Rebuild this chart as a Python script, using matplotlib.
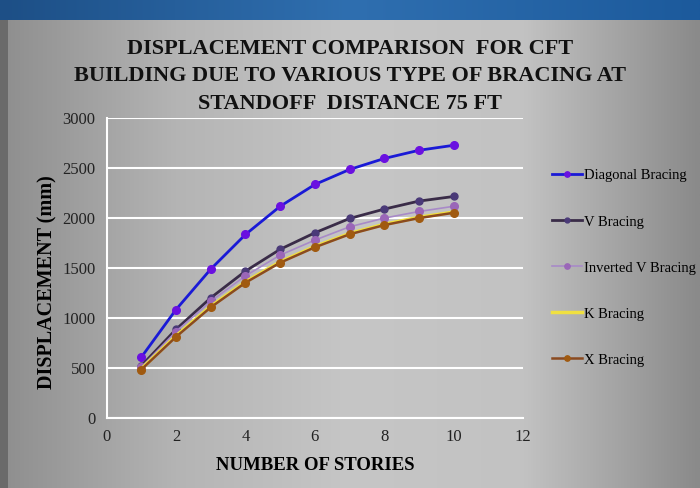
import numpy as np
import matplotlib
matplotlib.use('Agg')
import matplotlib.pyplot as plt
from matplotlib.colors import LinearSegmentedColormap

DPI = 100

stories = [1, 2, 3, 4, 5, 6, 7, 8, 9, 10]
diagonal = [612, 1088, 1492, 1838, 2120, 2338, 2488, 2598, 2680, 2730]
v_bracing = [525, 890, 1205, 1472, 1690, 1855, 1998, 2092, 2172, 2218]
inv_v_bracing = [512, 868, 1170, 1425, 1632, 1782, 1915, 2002, 2068, 2120]
k_bracing = [495, 825, 1120, 1365, 1565, 1718, 1848, 1940, 2010, 2062]
x_bracing = [488, 815, 1110, 1356, 1556, 1710, 1840, 1932, 2002, 2055]

labels = ['Diagonal Bracing', 'V Bracing', 'Inverted V Bracing', 'K Bracing', 'X Bracing']
series = [diagonal, v_bracing, inv_v_bracing, k_bracing, x_bracing]

serif = ['Liberation Serif', 'DejaVu Serif']

fig = plt.figure(figsize=(7.0, 4.88), dpi=DPI)

# slide background: grey gradient with blue band on top
bg = fig.add_axes([0, 0, 1, 1], zorder=-10)
bg.set_axis_off()
cmap = LinearSegmentedColormap.from_list('slide', ['#8e8e8e', '#b4b4b4', '#c6c6c6', '#c2c2c2', '#8a8a8a'])
grad = np.tile(np.linspace(0, 1, 256), (64, 1))
bg.imshow(grad, cmap=cmap, aspect='auto', extent=[0, 1, 0, 1])
band = LinearSegmentedColormap.from_list('band', ['#1d4f86', '#2f6fb0', '#1c5a9c'])
bg.imshow(grad, cmap=band, aspect='auto', extent=[0, 1, 1 - 20 / 488.0, 1])
bg.imshow(grad[:, :1], cmap=LinearSegmentedColormap.from_list('edge', ['#6a6a6a', '#6a6a6a']),
          aspect='auto', extent=[0, 8 / 700.0, 0, 1 - 20 / 488.0])
bg.set_xlim(0, 1)
bg.set_ylim(0, 1)

ax = fig.add_axes([0.1524, 0.1428, 0.5948, 0.6148])
ax.set_facecolor('none')

styles = [
    dict(color='#1a1ad6', lw=2.0, marker='o', ms=5.5, mfc='#6a10e0', mec='#6a10e0'),
    dict(color='#3a2c48', lw=2.0, marker='o', ms=5, mfc='#4a3a78', mec='#4a3a78'),
    dict(color='#a88ac8', lw=1.2, marker='o', ms=5.5, mfc='#9a66b8', mec='#9a66b8'),
    dict(color='#f0e040', lw=2.5, marker=None),
    dict(color='#8a4a20', lw=1.8, marker='o', ms=5.5, mfc='#a05a10', mec='#a05a10'),
]

for data, lab, st in zip(series, labels, styles):
    ax.plot(stories, data, label=lab, **st)

ax.set_xlim(0, 12)
ax.set_ylim(0, 3000)
ax.set_xticks(range(0, 13, 2))
ax.set_yticks(range(0, 3001, 500))
ax.yaxis.grid(True, color='white', lw=1.5)
ax.set_axisbelow(True)
for side in ['top', 'right']:
    ax.spines[side].set_visible(False)
for side in ['left', 'bottom']:
    ax.spines[side].set_color('white')
    ax.spines[side].set_linewidth(1.5)
ax.tick_params(length=0, labelsize=12, pad=8, colors='#222222')
for t in ax.get_xticklabels() + ax.get_yticklabels():
    t.set_family(serif)

ax.set_xlabel('NUMBER OF STORIES', fontsize=13.5, fontweight='bold', family=serif, labelpad=8)
ax.set_ylabel('DISPLACEMENT (mm)', fontsize=14.5, fontweight='bold', family=serif)
ax.yaxis.set_label_coords(-0.117, 0.455)

fig.text(0.5, 0.844, 'DISPLACEMENT COMPARISON  FOR CFT\nBUILDING DUE TO VARIOUS TYPE OF BRACING AT\nSTANDOFF  DISTANCE 75 FT',
         ha='center', va='center', fontsize=16, fontweight='bold', family=serif, linespacing=1.5,
         color='#111111')

leg = ax.legend(loc='upper left', bbox_to_anchor=(1.053, 0.83), frameon=False,
                prop={'family': serif, 'size': 10.5}, labelspacing=2.25, borderpad=0,
                handlelength=2.05, handletextpad=0.15, markerscale=0.7)

fig.canvas.draw()
# line the first legend row up with the reference (row centre at y ~176 px)
row0 = leg.get_texts()[0].get_window_extent()
shift = (488 - 176) - (row0.y0 + row0.y1) / 2.0
inv = ax.transAxes.inverted()
dy = inv.transform((0, shift))[1] - inv.transform((0, 0))[1]
leg.set_bbox_to_anchor((1.053, 0.83 + dy), transform=ax.transAxes)

plt.savefig('out.png', dpi=DPI)
